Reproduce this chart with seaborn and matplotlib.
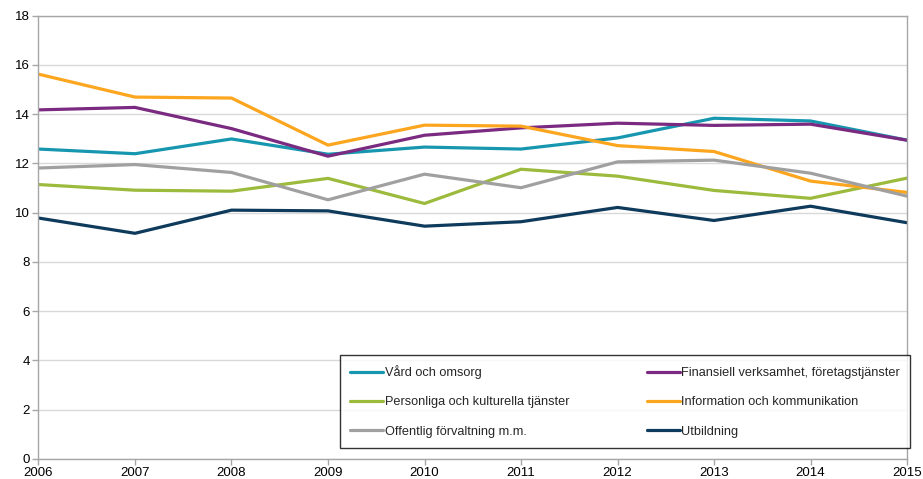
import matplotlib
matplotlib.use("Agg")
import matplotlib.pyplot as plt
import seaborn as sns
import pandas as pd

years = [2006, 2007, 2008, 2009, 2010, 2011, 2012, 2013, 2014, 2015]

vard = [12.58, 12.39, 12.99, 12.37, 12.66, 12.58, 13.03, 13.83, 13.72, 12.94]
finans = [14.17, 14.27, 13.41, 12.29, 13.14, 13.44, 13.63, 13.54, 13.59, 12.94]
personliga = [11.14, 10.91, 10.87, 11.39, 10.37, 11.76, 11.48, 10.90, 10.58, 11.40]
information = [15.62, 14.69, 14.65, 12.74, 13.55, 13.51, 12.72, 12.48, 11.28, 10.82]
offentlig = [11.81, 11.95, 11.63, 10.52, 11.56, 11.01, 12.06, 12.13, 11.60, 10.67]
utbildning = [9.78, 9.16, 10.10, 10.07, 9.45, 9.63, 10.21, 9.68, 10.26, 9.59]

series_names = [
    "Vård och omsorg",
    "Finansiell verksamhet, företagstjänster",
    "Personliga och kulturella tjänster",
    "Information och kommunikation",
    "Offentlig förvaltning m.m.",
    "Utbildning",
]
series_values = [vard, finans, personliga, information, offentlig, utbildning]
colors = ["#1796B0", "#7A2A80", "#9CBA3C", "#FCA51E", "#A0A0A0", "#0E3A5C"]

df = pd.DataFrame(
    [(y, v, name) for name, vals in zip(series_names, series_values)
     for y, v in zip(years, vals)],
    columns=["year", "value", "series"],
)

sns.set_theme(style="white")
plt.rcParams["font.family"] = ["Liberation Sans", "DejaVu Sans"]

fig = plt.figure(figsize=(9.23, 4.79), dpi=100)
ax = fig.add_axes([0.0417, 0.0418, 0.9410, 0.9258])

lw = 2.3
sns.lineplot(data=df, x="year", y="value", hue="series", hue_order=series_names,
             palette=colors, linewidth=lw, ax=ax, legend=False)

ax.set_xlim(2006, 2015)
ax.set_ylim(0, 18)
ax.set_xticks(years)
ax.set_yticks(range(0, 19, 2))
ax.set_xlabel("")
ax.set_ylabel("")
ax.grid(axis="y", color="#D9D9D9", linewidth=1.0)
ax.set_axisbelow(True)
for side in ["left", "bottom", "right", "top"]:
    ax.spines[side].set_color("#A6A6A6")
    ax.spines[side].set_linewidth(1.0)
ax.tick_params(axis="both", labelsize=9.5, colors="#000000", length=4,
               width=1.0, direction="out", color="#A6A6A6", pad=2)
ax.tick_params(axis="x", bottom=True)
ax.tick_params(axis="y", left=True)

# two-column legend filled row by row
order = [0, 2, 4, 1, 3, 5]
handles = [plt.Line2D([], [], color=colors[i], linewidth=lw) for i in order]
labels = [series_names[i] for i in order]
leg = ax.legend(handles, labels, ncol=2, loc="upper left",
                bbox_to_anchor=(340 / 923, 1 - 445 / 479, 570 / 923, 90 / 479),
                bbox_transform=fig.transFigure, mode="expand",
                fontsize=9.2, frameon=True, fancybox=False,
                handlelength=2.6, handletextpad=0.1, labelspacing=1.35,
                borderpad=0.8, borderaxespad=0, columnspacing=2.0)
leg.get_frame().set_edgecolor("#000000")
leg.get_frame().set_linewidth(1.0)

fig.savefig("out.png", dpi=100, facecolor="white")
